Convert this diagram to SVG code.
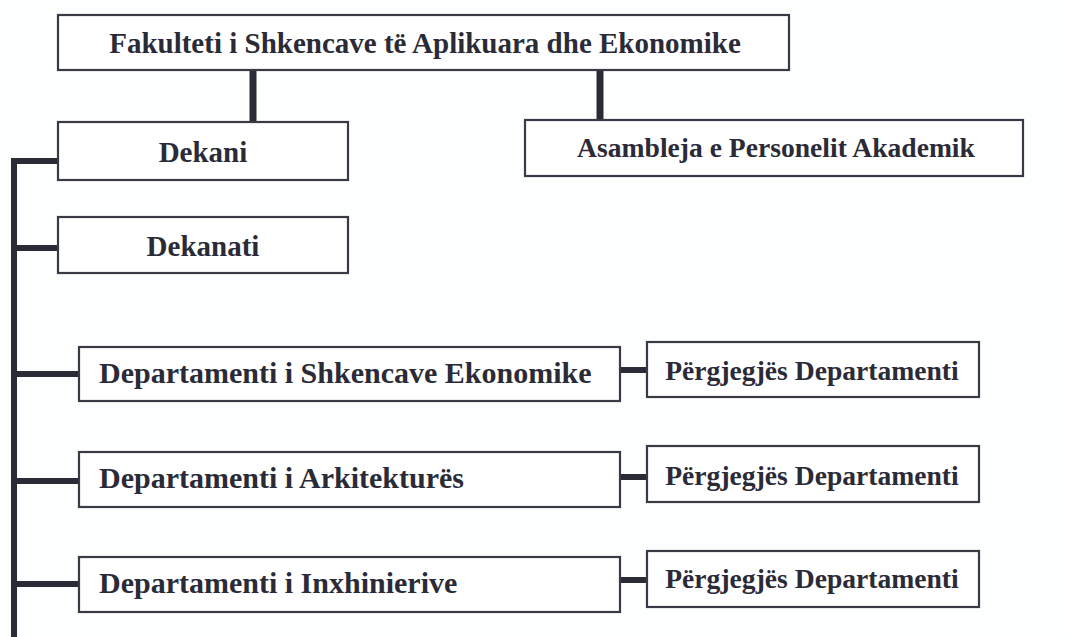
<svg xmlns="http://www.w3.org/2000/svg" width="1066" height="637" viewBox="0 0 1066 637">
<style>
.box{fill:#fff;stroke:#3a3a46;stroke-width:2.2}
.t{font-family:"Liberation Serif","Times New Roman",serif;font-weight:bold;fill:#2b2b38;font-size:29px}
.s{font-size:27.6px}
.d{font-size:30px}
.c{stroke:#2b2b38;fill:none}
</style>
<rect width="1066" height="637" fill="#fdfefe"/>
<g id="connectors" class="c">
<line x1="253" y1="71" x2="253" y2="121" stroke-width="7"/>
<line x1="600" y1="71" x2="600" y2="120" stroke-width="7"/>
<line x1="14" y1="158" x2="14" y2="637" stroke-width="6"/>
<line x1="11" y1="161" x2="58" y2="161" stroke-width="6"/>
<line x1="11" y1="248" x2="58" y2="248" stroke-width="6"/>
<line x1="11" y1="374" x2="79" y2="374" stroke-width="6"/>
<line x1="11" y1="481" x2="79" y2="481" stroke-width="6"/>
<line x1="11" y1="584" x2="79" y2="584" stroke-width="6"/>
<line x1="620" y1="370" x2="647" y2="370" stroke-width="6"/>
<line x1="620" y1="477" x2="647" y2="477" stroke-width="6"/>
<line x1="620" y1="580" x2="647" y2="580" stroke-width="6"/>
</g>
<g id="fakulteti"><rect class="box" x="58" y="15" width="731" height="55"/><text class="t" x="425" y="53" text-anchor="middle">Fakulteti i Shkencave të Aplikuara dhe Ekonomike</text></g>
<g id="dekani"><rect class="box" x="58" y="122" width="290" height="58"/><text class="t" x="203" y="162" text-anchor="middle">Dekani</text></g>
<g id="asambleja"><rect class="box" x="525" y="120" width="498" height="56"/><text class="t s" x="776" y="157" text-anchor="middle">Asambleja e Personelit Akademik</text></g>
<g id="dekanati"><rect class="box" x="58" y="217" width="290" height="56"/><text class="t" x="203" y="256" text-anchor="middle">Dekanati</text></g>
<g id="dep1"><rect class="box" x="79" y="347" width="541" height="54"/><text class="t d" x="99" y="383">Departamenti i Shkencave Ekonomike</text></g>
<g id="dep2"><rect class="box" x="79" y="452" width="541" height="55"/><text class="t d" x="99" y="488">Departamenti i Arkitekturës</text></g>
<g id="dep3"><rect class="box" x="79" y="557" width="541" height="55"/><text class="t d" x="99" y="593">Departamenti i Inxhinierive</text></g>
<g id="perg1"><rect class="box" x="647" y="342" width="332" height="55"/><text class="t s" x="812" y="380" text-anchor="middle">Përgjegjës Departamenti</text></g>
<g id="perg2"><rect class="box" x="647" y="446" width="332" height="56"/><text class="t s" x="812" y="485" text-anchor="middle">Përgjegjës Departamenti</text></g>
<g id="perg3"><rect class="box" x="647" y="551" width="332" height="56"/><text class="t s" x="812" y="588" text-anchor="middle">Përgjegjës Departamenti</text></g>
</svg>
